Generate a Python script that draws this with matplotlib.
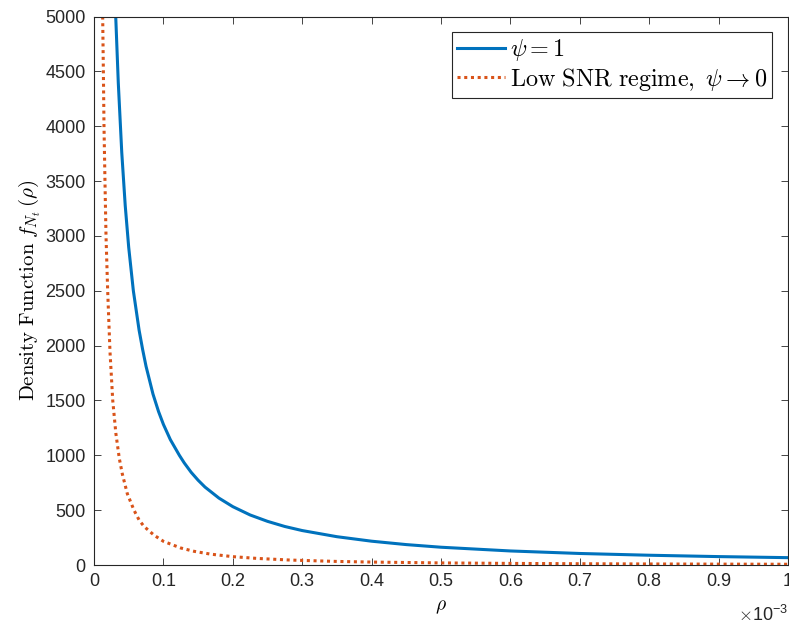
"""Density function of rho for psi = 1 and the low SNR limit."""

import matplotlib
matplotlib.use("Agg")
import matplotlib.pyplot as plt

matplotlib.rcParams["font.family"] = ["Liberation Sans", "DejaVu Sans"]
matplotlib.rcParams["mathtext.fontset"] = "cm"

# rho values are in units of 1e-3 (the axis carries a x10^-3 multiplier)
rho_psi1 = [0.0313, 0.035, 0.040, 0.045, 0.050, 0.0567, 0.065, 0.070, 0.075,
            0.085, 0.093, 0.10, 0.11, 0.123, 0.13, 0.14, 0.15, 0.16, 0.18,
            0.20, 0.225, 0.25, 0.275, 0.30, 0.35, 0.40, 0.45, 0.50, 0.60,
            0.70, 0.80, 0.90, 1.0]
dens_psi1 = [5000, 4395, 3760, 3276, 2896, 2500, 2140, 1967, 1811,
             1558, 1399, 1282, 1143, 1000, 931, 845, 773, 710, 610,
             532, 456, 398, 351, 314, 258, 217, 186, 162, 128,
             105, 89, 76.6, 67]

rho_low = [0.0125, 0.0135, 0.0144, 0.0158, 0.0173, 0.0197, 0.023, 0.027, 0.0315,
           0.0365, 0.0408, 0.048, 0.0576, 0.065, 0.072, 0.0865, 0.10, 0.125,
           0.144, 0.168, 0.20, 0.235, 0.283, 0.35, 0.40, 0.50, 0.60, 0.70,
           0.80, 0.90, 1.0]
dens_low = [5000, 4500, 4000, 3500, 3000, 2500, 1950, 1500, 1200,
            970, 830, 650, 500, 410, 352, 272, 216, 155,
            125, 99, 76, 60, 45, 32.5, 26.7, 19, 14.5, 11.5,
            9.4, 7.9, 6.75]

xticks = [0, 0.1, 0.2, 0.3, 0.4, 0.5, 0.6, 0.7, 0.8, 0.9, 1.0]
xtick_labels = ["0", "0.1", "0.2", "0.3", "0.4", "0.5", "0.6", "0.7", "0.8", "0.9", "1"]
yticks = list(range(0, 5001, 500))

fig = plt.figure(figsize=(7.89, 6.25), dpi=100)
ax = fig.add_axes([94 / 789, 60 / 625, 694 / 789, 548.5 / 625])

ax.plot(rho_psi1, dens_psi1, color="#0072BD", lw=2.2, label=r"$\psi = 1$")
ax.plot(rho_low, dens_low, color="#D95319", lw=2.2, ls=(0, (1, 1.2)),
        label=r"$\mathrm{Low\ SNR\ regime},\ \psi \rightarrow 0$")

ax.set_xlim(0, 1)
ax.set_ylim(0, 5000)
ax.set_xticks(xticks)
ax.set_xticklabels(xtick_labels)
ax.set_yticks(yticks)
ax.tick_params(direction="in", length=5, width=0.6, top=True, right=True,
               labelsize=13, colors="#262626", pad=6)
for sp in ax.spines.values():
    sp.set_color("#262626")
    sp.set_linewidth(0.8)

ax.set_xlabel(r"$\rho$", fontsize=14, labelpad=6)
ax.set_ylabel(r"$\mathrm{Density\ Function}\ f_{N_t}\,(\rho)$", fontsize=15, labelpad=2)
ax.text(1.0, -0.072, r"$\times\mathregular{10^{-3}}$", transform=ax.transAxes,
        ha="right", va="top", fontsize=13, color="#262626")

leg = ax.legend(loc="upper right", fontsize=17.4, handlelength=2.0, handletextpad=0.2,
                borderpad=0.2, labelspacing=0.1, fancybox=False, framealpha=1,
                borderaxespad=0.66)
leg.get_frame().set_edgecolor("#262626")
leg.get_frame().set_linewidth(0.8)

fig.savefig("out.png", dpi=100)
